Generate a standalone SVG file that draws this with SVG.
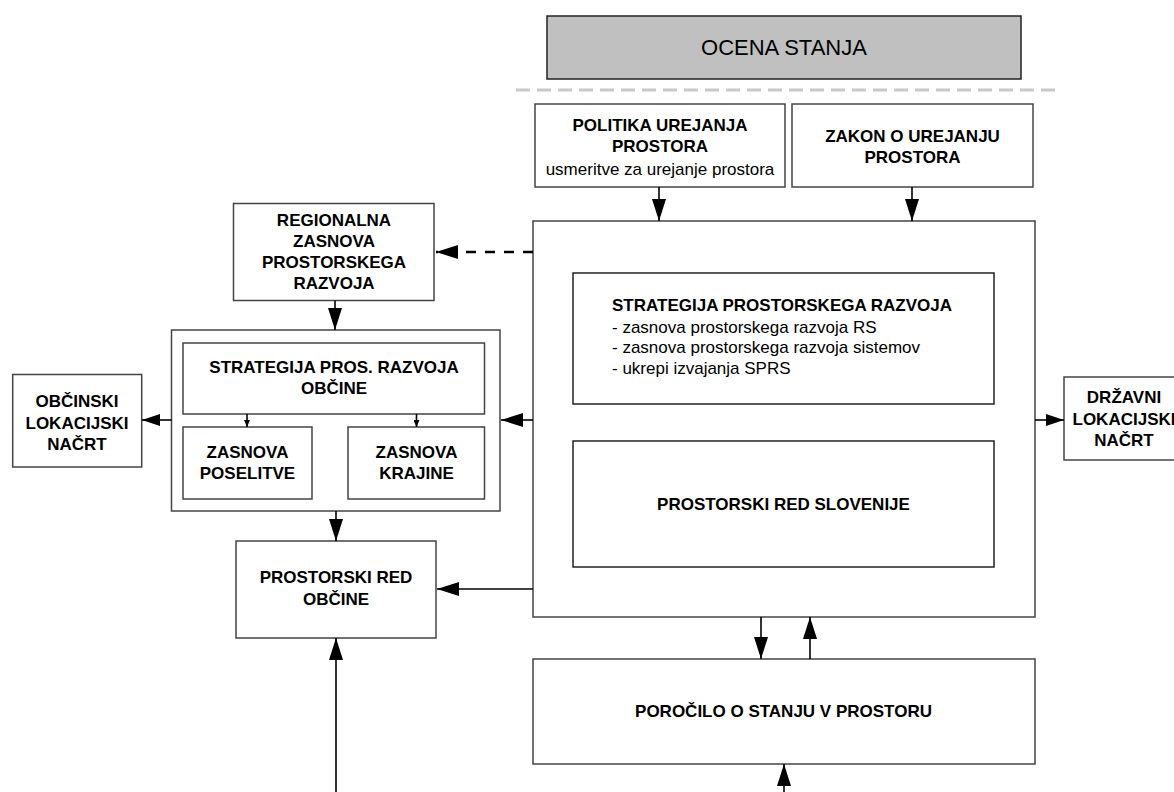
<svg xmlns="http://www.w3.org/2000/svg" width="1174" height="792" viewBox="0 0 1174 792">
<style>
.box{fill:#fff;stroke:#444;stroke-width:1.5}
.inner{fill:#fff;stroke:#222;stroke-width:1.5}
.grey{fill:#c0c0c0;stroke:#222;stroke-width:1.5}
.b{font-family:"Liberation Sans",Arial,sans-serif;font-weight:bold;font-size:17px;fill:#000;text-anchor:middle}
.r{font-family:"Liberation Sans",Arial,sans-serif;font-size:17px;fill:#000;text-anchor:middle}
.l{text-anchor:start}
.big{font-family:"Liberation Sans",Arial,sans-serif;font-size:22px;fill:#000;text-anchor:middle}
.c{fill:none;stroke:#000;stroke-width:1.6}
</style>
<defs>
<marker id="ah" markerUnits="userSpaceOnUse" markerWidth="22" markerHeight="14" refX="22" refY="7" orient="auto"><path d="M0,0 L22,7 L0,14 z" fill="#000"/></marker>
<marker id="am" markerUnits="userSpaceOnUse" markerWidth="18" markerHeight="12" refX="18" refY="6" orient="auto"><path d="M0,0 L18,6 L0,12 z" fill="#000"/></marker>
<marker id="as" markerUnits="userSpaceOnUse" markerWidth="7" markerHeight="6" refX="7" refY="3" orient="auto"><path d="M0,0 L7,3 L0,6 z" fill="#000"/></marker>
</defs>
<rect width="1174" height="792" fill="#fff"/>

<g id="ocena">
<rect class="grey" x="547" y="16" width="474" height="63"/>
<text class="big" x="784" y="55">OCENA STANJA</text>
</g>
<line x1="516" y1="90" x2="1058" y2="90" stroke="#c8c8c8" stroke-width="3" stroke-dasharray="14 7"/>

<g id="politika">
<rect class="box" x="535" y="104" width="250" height="83"/>
<text class="b" x="660" y="131">POLITIKA UREJANJA</text>
<text class="b" x="660" y="152">PROSTORA</text>
<text class="r" x="660" y="175">usmeritve za urejanje prostora</text>
</g>

<g id="zakon">
<rect class="box" x="792" y="104" width="241" height="83"/>
<text class="b" x="912.5" y="142">ZAKON O UREJANJU</text>
<text class="b" x="912.5" y="163">PROSTORA</text>
</g>

<g id="drzavni-okvir">
<rect class="box" x="533" y="221" width="502" height="396"/>
</g>

<g id="strategija-prs">
<rect class="inner" x="573" y="273" width="421" height="131"/>
<text class="b l" x="612" y="311">STRATEGIJA PROSTORSKEGA RAZVOJA</text>
<text class="r l" x="612" y="333">- zasnova prostorskega razvoja RS</text>
<text class="r l" x="612" y="353">- zasnova prostorskega razvoja sistemov</text>
<text class="r l" x="612" y="374">- ukrepi izvajanja SPRS</text>
</g>

<g id="prostorski-red-slovenije">
<rect class="inner" x="573" y="441" width="421" height="126"/>
<text class="b" x="783.5" y="510">PROSTORSKI RED SLOVENIJE</text>
</g>

<g id="regionalna">
<rect class="box" x="233.5" y="203.5" width="200.5" height="97"/>
<text class="b" x="334" y="226">REGIONALNA</text>
<text class="b" x="334" y="247">ZASNOVA</text>
<text class="b" x="334" y="268">PROSTORSKEGA</text>
<text class="b" x="334" y="289">RAZVOJA</text>
</g>

<g id="obcinski-okvir">
<rect class="box" x="171.5" y="330" width="328.5" height="181"/>
</g>

<g id="strategija-obcine">
<rect class="box" x="183" y="343" width="301.5" height="71"/>
<text class="b" x="334" y="373">STRATEGIJA PROS. RAZVOJA</text>
<text class="b" x="334" y="394">OBČINE</text>
</g>

<g id="zasnova-poselitve">
<rect class="box" x="183" y="427" width="129" height="72"/>
<text class="b" x="247.5" y="458">ZASNOVA</text>
<text class="b" x="247.5" y="479">POSELITVE</text>
</g>

<g id="zasnova-krajine">
<rect class="box" x="348" y="427" width="136.5" height="72"/>
<text class="b" x="416.5" y="458">ZASNOVA</text>
<text class="b" x="416.5" y="479">KRAJINE</text>
</g>

<g id="obcinski-ln">
<rect class="box" x="12.7" y="374.5" width="129" height="92.5"/>
<text class="b" x="77" y="407">OBČINSKI</text>
<text class="b" x="77" y="428.5">LOKACIJSKI</text>
<text class="b" x="77" y="450">NAČRT</text>
</g>

<g id="drzavni-ln">
<rect class="box" x="1064" y="377" width="130" height="83"/>
<text class="b" x="1124" y="403">DRŽAVNI</text>
<text class="b" x="1124" y="425">LOKACIJSKI</text>
<text class="b" x="1124" y="446">NAČRT</text>
</g>

<g id="prostorski-red-obcine">
<rect class="box" x="236" y="541" width="200" height="97"/>
<text class="b" x="336" y="583">PROSTORSKI RED</text>
<text class="b" x="336" y="605">OBČINE</text>
</g>

<g id="porocilo">
<rect class="box" x="533" y="659" width="502" height="105"/>
<text class="b" x="783.5" y="717">POROČILO O STANJU V PROSTORU</text>
</g>

<g id="connectors">
<line class="c" x1="659" y1="187" x2="659" y2="221" marker-end="url(#ah)"/>
<line class="c" x1="912" y1="187" x2="912" y2="221" marker-end="url(#ah)"/>
<line x1="533" y1="252" x2="436" y2="252" stroke="#000" stroke-width="2.6" stroke-dasharray="10 9" marker-end="url(#ah)"/>
<line class="c" x1="335" y1="300.5" x2="335" y2="330" marker-end="url(#ah)"/>
<line class="c" x1="533" y1="420" x2="501" y2="420" marker-end="url(#ah)"/>
<line class="c" x1="171.5" y1="420" x2="142" y2="420" marker-end="url(#am)"/>
<line class="c" x1="1035" y1="420" x2="1064" y2="420" marker-end="url(#am)"/>
<line class="c" x1="247" y1="414" x2="247" y2="427" marker-end="url(#as)"/>
<line class="c" x1="416.5" y1="414" x2="416.5" y2="427" marker-end="url(#as)"/>
<line class="c" x1="336" y1="511" x2="336" y2="541" marker-end="url(#ah)"/>
<line class="c" x1="533" y1="589" x2="437" y2="589" marker-end="url(#ah)"/>
<line class="c" x1="761" y1="617" x2="761" y2="659" marker-end="url(#ah)"/>
<line class="c" x1="810" y1="659" x2="810" y2="617" marker-end="url(#ah)"/>
<line class="c" x1="336" y1="792" x2="336" y2="638" marker-end="url(#ah)"/>
<line class="c" x1="784" y1="792" x2="784" y2="764" marker-end="url(#ah)"/>
</g>
</svg>
